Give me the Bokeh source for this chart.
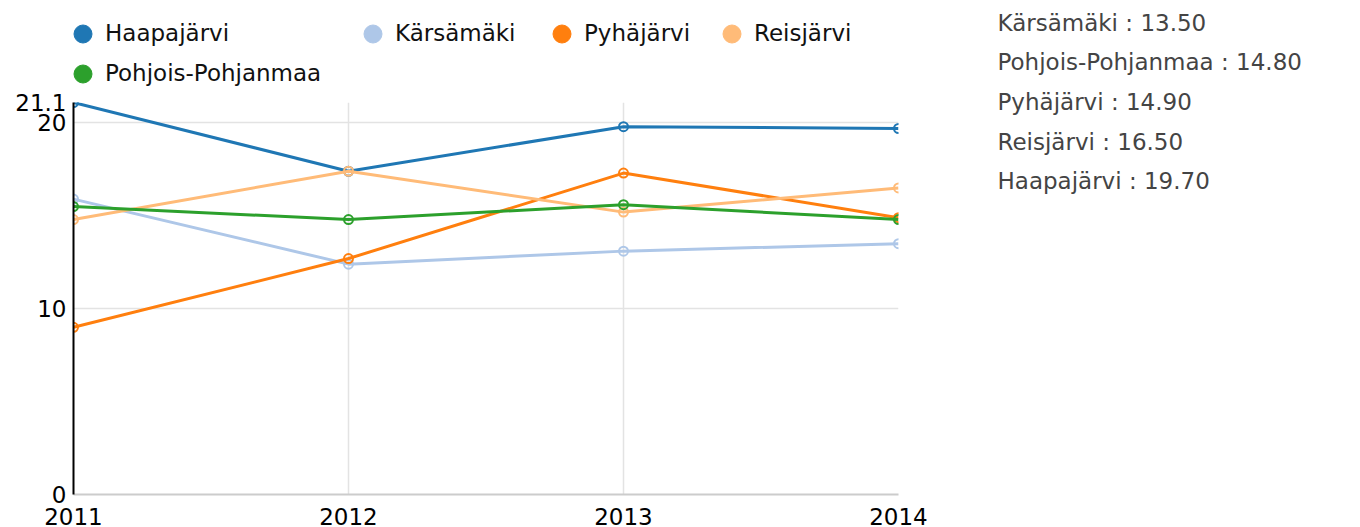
from bokeh.plotting import figure
from bokeh.layouts import row, column
from bokeh.models import Legend, LegendItem, FixedTicker, Range1d, ColumnDataSource
from bokeh.core.properties import value
from bokeh.embed import file_html
from bokeh.resources import INLINE

# ---- data ----
years = [2011, 2012, 2013, 2014]
series_names = ["Haapajärvi", "Kärsämäki", "Pyhäjärvi", "Reisjärvi", "Pohjois-Pohjanmaa"]
haapajarvi = [21.1, 17.4, 19.8, 19.7]
karsamaki = [15.9, 12.4, 13.1, 13.5]
pyhajarvi = [9.0, 12.7, 17.3, 14.9]
reisjarvi = [14.8, 17.4, 15.2, 16.5]
pohjois_pohjanmaa = [15.5, 14.8, 15.6, 14.8]
series_values = [haapajarvi, karsamaki, pyhajarvi, reisjarvi, pohjois_pohjanmaa]
colors = ["#1f77b4", "#aec7e8", "#ff7f0e", "#ffbb78", "#2ca02c"]
y_ticks = [0, 10, 20, 21.1]
x_ticks = years

FONT = "DejaVu Sans"
FS = "23px"
y_max = max(max(v) for v in series_values)


def bare(width, height, xr, yr):
    f = figure(width=width, height=height, output_backend="svg", toolbar_location=None,
               x_range=xr, y_range=yr, x_axis_location=None, y_axis_location=None,
               min_border=0)
    f.grid.visible = False
    f.outline_line_color = None
    return f


# ---- main chart ----
p = figure(width=929, height=437, output_backend="svg", toolbar_location=None,
           x_range=Range1d(years[0], years[-1]), y_range=Range1d(0, y_max),
           min_border_left=73, min_border_top=12, min_border_right=31,
           min_border_bottom=33)
p.outline_line_color = None

p.xaxis.ticker = FixedTicker(ticks=x_ticks)
p.yaxis.ticker = FixedTicker(ticks=y_ticks)
p.yaxis.major_label_overrides = {t: f"{t}" for t in y_ticks}
for ax in (p.xaxis[0], p.yaxis[0]):
    ax.major_tick_line_color = None
    ax.minor_tick_line_color = None
    ax.major_label_text_font = FONT
    ax.major_label_text_font_size = FS
    ax.major_label_text_color = "black"
p.xaxis.axis_line_color = "#cccccc"
p.xaxis.axis_line_width = 2
p.xaxis.major_label_standoff = 7
p.yaxis.axis_line_color = "black"
p.yaxis.axis_line_width = 2
p.yaxis.major_label_standoff = 1

p.xgrid.ticker = FixedTicker(ticks=x_ticks[1:-1])
p.ygrid.ticker = FixedTicker(ticks=y_ticks[1:3])
p.xgrid.grid_line_color = "#e3e3e3"
p.ygrid.grid_line_color = "#e3e3e3"
p.xgrid.grid_line_width = 1.5
p.ygrid.grid_line_width = 1.5

for vals, col in zip(series_values, colors):
    p.line(years, vals, line_color=col, line_width=3)
    p.scatter(years, vals, size=9, marker="circle", line_color=col,
              fill_color=None, line_width=2)

# ---- legend strip above the chart (its frame lines up with the chart's frame) ----
top = bare(929, 90, Range1d(0, 929), Range1d(0, 90))
legend_pos = [(-13, 34.5), (277, 34.5), (466, 34.5), (636, 34.5), (-13, -5.5)]
for name, vals, col, pos in zip(series_names, series_values, colors, legend_pos):
    # swatch renderer: size 0, the legend draws its own marker
    r = top.scatter(years, vals, size=0, marker="circle", fill_color=col,
                    line_color=col, line_width=1)
    top.add_layout(Legend(items=[LegendItem(label=name, renderers=[r])], location=pos,
                          orientation="horizontal", glyph_width=45, glyph_height=45,
                          label_standoff=0, padding=0, margin=0, spacing=0,
                          border_line_color=None, background_fill_alpha=0,
                          label_text_font=FONT, label_text_font_size=FS,
                          label_text_color="#111111"))

# ---- value list at the right ----
side = bare(431, 527, Range1d(0, 431), Range1d(527, 0))
order = sorted(range(len(series_names)), key=lambda i: series_values[i][-1])
side_src = ColumnDataSource(dict(
    x=[68] * len(order),
    y=[22 + 39.7 * k for k in range(len(order))],
    text=[f"{series_names[i]} : {series_values[i][-1]:.2f}" for i in order],
))
side.text(x="x", y="y", text="text", source=side_src, text_align="left",
          text_baseline="middle", text_color="#444444",
          text_font=value(FONT), text_font_size=value(FS))

layout = row(column(top, p, spacing=0), side, spacing=0)
open("out.html", "w", encoding="utf-8").write(file_html(layout, INLINE))
